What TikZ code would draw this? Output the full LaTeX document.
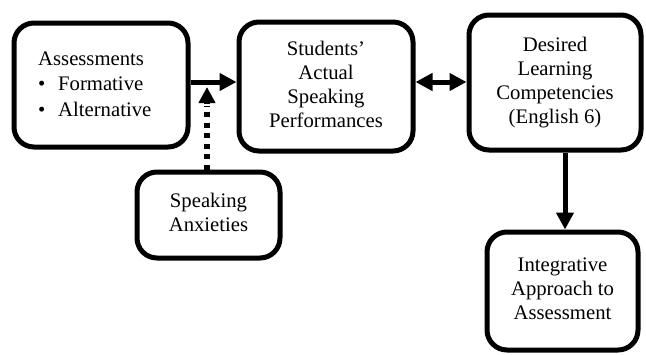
\documentclass[tikz,border=0pt]{standalone}
\usepackage{fontspec}
\setmainfont{Liberation Serif}
\usetikzlibrary{arrows.meta}
\newcommand\boxlines[2][c]{\begin{tabular}{@{}#1@{}}#2\end{tabular}}
\begin{document}
\begin{tikzpicture}[x=1pt,y=-1pt,
  box/.style={draw=black,line width=5pt,rounded corners=20pt,fill=white,align=center,inner sep=0pt,
    font=\fontsize{20.7pt}{24pt}\selectfont},
  tip/.tip={Triangle[length=17pt,width=17pt]},
  conn/.style={line width=5pt,-tip},
  dconn/.style={line width=5pt,tip-tip}]
\useasboundingbox (0,0) rectangle (646,354);
\node[box,minimum width=174pt,minimum height=124pt] (a) at (101,85) {};
\node[anchor=north west,inner sep=0pt,font=\fontsize{20.7pt}{25.5pt}\selectfont] (at) at (38,47)
  {\boxlines[l]{Assessments\\\makebox[20pt][l]{\textbullet}Formative\\\makebox[20pt][l]{\textbullet}Alternative}};
\node[box,minimum width=174pt,minimum height=129pt] (b) at (326,86.5)
  {\boxlines{Students’\\Actual\\Speaking\\Performances}};
\node[box,minimum width=172pt,minimum height=135pt] (c) at (555,82.5)
  {\raisebox{-3pt}{\boxlines{Desired\\Learning\\Competencies\\(English 6)}}};
\node[box,minimum width=143pt,minimum height=86pt] (d) at (208.5,215)
  {\boxlines{Speaking\\Anxieties}};
\node[box,minimum width=151pt,minimum height=118pt] (e) at (562.5,291)
  {\raisebox{-3pt}{\boxlines{Integrative\\Approach to\\Assessment}}};
\coordinate (j) at (207,87);
\draw[conn] (a.east |- 0,82) -- (b.west |- 0,82);
\draw[dconn] (b.east |- 0,82) -- (c.west |- 0,82);
\draw[line width=5.5pt,dash pattern=on 5pt off 5.5pt] (d.north -| j) -- ([yshift=-19pt]j);
\draw[line width=5.5pt,-{Triangle[length=16pt,width=16pt]}] ([yshift=-17pt]j) -- (j);
\draw[conn] (c.south -| 565,0) -- (e.north -| 565,0);
\end{tikzpicture}
\end{document}
